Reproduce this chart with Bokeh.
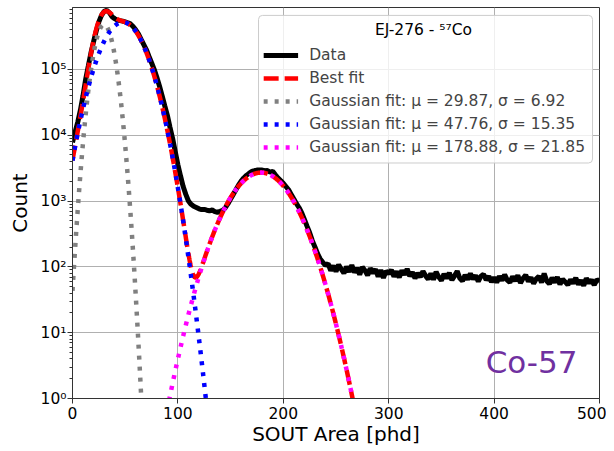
import numpy as np
from bokeh.plotting import figure
from bokeh.models import (Range1d, Label, FixedTicker, CustomJSTickFormatter,
                          Legend, BoxAnnotation)
from bokeh.embed import file_html
from bokeh.resources import INLINE

# ---- data ----
data_x = [i * 2.5 for i in range(201)]
data_counts = [
    7800, 11200, 15800, 24000, 40000, 71000, 112000, 178000, 263000, 380000,
    525000, 660000, 760000, 790000, 725000, 630000, 590000, 560000, 550000, 540000,
    525000, 510000, 490000, 447000, 398000, 347000, 288000, 240000, 200000, 158000,
    126000, 100000, 76000, 56000, 40000, 28000, 20000, 13200, 8900, 5600,
    3550, 2400, 1660, 1260, 1000, 890, 830, 795, 760, 740,
    745, 725, 710, 730, 690, 675, 695, 720, 790, 910,
    1070, 1260, 1480, 1740, 2000, 2240, 2450, 2630, 2820, 2880,
    2950, 2960, 2950, 2880, 2900, 2750, 2820, 2510, 2240, 2040,
    1860, 1660, 1480, 1260, 1070, 910, 790, 660, 525, 415,
    330, 250, 200, 158, 132, 117, 105,
    112, 88, 104, 85, 108, 92, 80, 101, 84, 106, 82, 96, 76, 99, 88, 74, 95, 80, 92, 71,
    89, 68, 86, 79,
    90, 71, 85, 69, 88, 76, 93, 72, 83, 67, 80, 70, 86, 73, 65, 79, 64, 84, 70, 62,
    78, 67, 81, 63, 73, 86, 67, 61, 75, 64, 79, 65, 74, 60, 72, 77, 63, 72, 59, 69,
    58, 72, 62, 76, 63, 58, 71, 61, 74, 57, 67, 75, 60, 69, 56, 66, 72, 58, 79, 61,
    55, 68, 58, 70, 54, 65, 59, 53, 64, 56, 68, 54, 62, 52, 67, 57, 63, 53, 64, 60,
]

# Gaussian fit parameters (mu, sigma from legend; amplitude)
fit_mu = [29.87, 47.76, 178.88]
fit_sigma = [6.92, 15.35, 21.85]
fit_amp = [4.8e5, 5.2e5, 2700]
fit_colors = ["#808080", "#0000ff", "#ff00ff"]
fit_labels = ["Gaussian fit: μ = 29.87, σ = 6.92",
              "Gaussian fit: μ = 47.76, σ = 15.35",
              "Gaussian fit: μ = 178.88, σ = 21.85"]

x_ticks = [0, 100, 200, 300, 400, 500]
y_ticks = [1, 10, 100, 1000, 10000, 100000]

FONT = "DejaVu Sans"

p = figure(width=606, height=448, y_axis_type="log",
           x_range=Range1d(0, 500), y_range=Range1d(1, 8.7e5),
           output_backend="svg", toolbar_location=None,
           min_border_left=72, min_border_right=7, min_border_top=7,
           min_border_bottom=49)

# legend frame drawn under the curves' legend (semi-transparent white box)
box = BoxAnnotation(left=176.5, right=493.4, bottom=3780, top=6.6e5,
                    fill_color="white", fill_alpha=0.8,
                    line_color="#cccccc", line_width=1, line_alpha=1,
                    border_radius=4, level="underlay")
p.add_layout(box)

# curves
xf = np.linspace(0, 500, 2001)
gauss = []
for a, m, s in zip(fit_amp, fit_mu, fit_sigma):
    g = a * np.exp(-(xf - m) ** 2 / (2 * s ** 2))
    gauss.append(g)
best = gauss[0] + gauss[1] + gauss[2]

def clean(arr):
    arr = arr.copy()
    arr[arr < 1e-3] = np.nan
    return arr

r_data = p.line(data_x, data_counts, line_color="black", line_width=5)
r_best = p.line(xf, clean(best), line_color="#ff0000", line_width=4.5,
                line_dash="15 6")
r_g = []
for g, c in zip(gauss, fit_colors):
    r_g.append(p.line(xf, clean(g), line_color=c, line_width=4.5,
                      line_dash="4 7"))

legend = Legend(items=[("Data", [r_data]), ("Best fit", [r_best])] +
                [(lab, [r]) for lab, r in zip(fit_labels, r_g)],
                location="top_right")
legend.title = " "
legend.title_text_font = FONT
legend.title_text_font_size = "15px"
legend.title_standoff = 6
legend.label_text_font = FONT
legend.label_text_font_size = "15.5px"
legend.glyph_width = 35
legend.glyph_height = 20
legend.label_height = 20
legend.spacing = 3
legend.label_standoff = 11
legend.padding = 6
legend.margin = 8
legend.border_line_alpha = 0
legend.background_fill_alpha = 0
p.add_layout(legend)

title_lbl = Label(x=333, y=3.9e5, text="EJ-276 - ⁵⁷Co", text_align="center",
                  text_baseline="middle", text_font=FONT,
                  text_font_size="15.5px", text_color="black")
p.add_layout(title_lbl)

co_lbl = Label(x=392, y=10 ** 0.55, text="Co-57", text_align="left",
               text_baseline="alphabetic", text_font=FONT,
               text_font_size="31px", text_color="#7030a0")
p.add_layout(co_lbl)

# axes
p.xaxis.ticker = FixedTicker(ticks=x_ticks)
minor = [m * d for d in y_ticks for m in range(2, 10)]
p.yaxis.ticker = FixedTicker(ticks=y_ticks, minor_ticks=minor)
p.yaxis.formatter = CustomJSTickFormatter(code="""
const sup = {'0':'\u2070','1':'\u00b9','2':'\u00b2','3':'\u00b3','4':'\u2074','5':'\u2075','6':'\u2076','7':'\u2077','8':'\u2078','9':'\u2079','-':'\u207b'};
const e = Math.round(Math.log10(tick));
return '10' + String(e).split('').map(c => sup[c]).join('');
""")

p.xaxis.axis_label = "SOUT Area [phd]"
p.yaxis.axis_label = "Count"
for ax in (p.xaxis, p.yaxis):
    ax.axis_label_text_font = FONT
    ax.axis_label_text_font_size = "20px"
    ax.axis_label_text_font_style = "normal"
    ax.axis_label_text_color = "black"
    ax.major_label_text_font = FONT
    ax.major_label_text_font_size = "15.5px"
    ax.major_label_text_color = "black"
    ax.axis_line_color = "#333333"
    ax.major_tick_line_color = "#333333"
    ax.minor_tick_line_color = "#333333"
    ax.major_tick_out = 5
    ax.major_tick_in = 0
    ax.minor_tick_in = 0
p.xaxis.minor_tick_out = 0
p.yaxis.minor_tick_out = 3
p.xaxis.major_label_standoff = 3
p.xaxis.axis_label_standoff = 0
p.yaxis.major_label_standoff = 1
p.yaxis.axis_label_standoff = 6

p.xgrid.grid_line_color = "#b0b0b0"
p.ygrid.grid_line_color = "#b0b0b0"
p.xgrid.grid_line_width = 1
p.ygrid.grid_line_width = 1

p.outline_line_color = "#333333"
p.outline_line_width = 1
p.outline_line_alpha = 1
p.background_fill_color = "white"
p.border_fill_color = "white"

open("out.html", "w").write(file_html(p, INLINE))
